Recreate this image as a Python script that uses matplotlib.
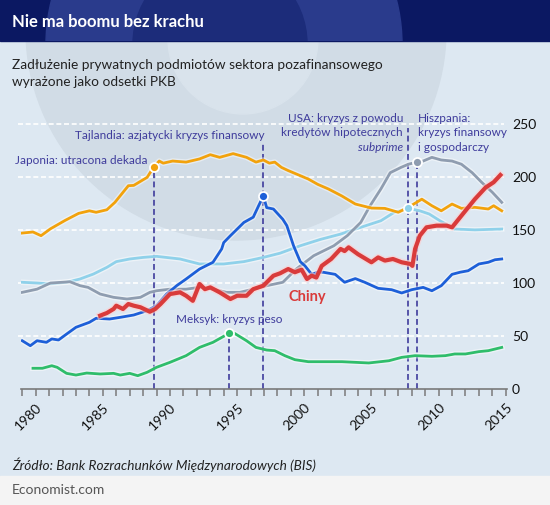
import matplotlib
matplotlib.use("Agg")
import matplotlib.pyplot as plt
import matplotlib.patheffects as pe
from matplotlib.patches import Rectangle, Circle

plt.rcParams['font.family'] = ['Lato', 'DejaVu Sans']

# data (year, % of GDP)
japan_x = [1979.0, 1979.8, 1980.4, 1981.1, 1982.2, 1983.2, 1984.0, 1984.5, 1985.3, 1985.9, 1986.9, 1987.3,
           1988.3, 1988.8, 1989.2, 1989.5, 1990.2, 1991.2, 1992.2, 1993.0, 1993.7, 1994.7, 1995.7, 1996.4,
           1996.95, 1997.4, 1997.8, 1998.3, 1998.8, 1999.55, 2000.3, 2001.0, 2001.8, 2002.8, 2003.8, 2005.0,
           2006.0, 2007.0, 2007.75, 2008.75, 2009.5, 2010.2, 2011.0, 2011.7, 2012.7, 2013.7, 2014.1, 2014.7]
japan_y = [147, 148, 144.5, 151, 159, 165.6, 168, 166.6, 169, 176, 191.7, 192,
           199.6, 209.6, 215, 213, 215, 214, 217, 221, 218.5, 222, 218.5, 214,
           216, 213, 214, 209, 206, 202, 198, 193, 188.6, 182, 174.4, 170.6,
           170.3, 166.6, 171.3, 179, 172.8, 168, 174.4, 170.3, 171.3, 169.7, 172.8, 168]

thai_x = [1979.0, 1979.6, 1980.1, 1980.8, 1981.2, 1981.7, 1982.3, 1983.0, 1984.0, 1984.5, 1985.5, 1986.3,
          1987.3, 1988.3, 1989.0, 1989.75, 1990.5, 1991.2, 1992.2, 1993.2, 1993.85, 1994.0, 1994.5, 1995.5,
          1996.2, 1996.6, 1996.95, 1997.2, 1997.7, 1998.4, 1998.7, 1999.2, 1999.7, 2000.05, 2000.55, 2001.0,
          2001.4, 2002.3, 2003.0, 2003.8, 2004.5, 2005.5, 2006.5, 2007.25, 2008.0, 2008.85, 2009.5, 2010.2,
          2011.0, 2011.6, 2012.2, 2013.0, 2013.7, 2014.2, 2014.7]
thai_y = [45.3, 40.6, 45.3, 43.8, 47, 46, 51.6, 58, 62.7, 66.5, 65.8, 67.4,
          69.6, 73.7, 78.4, 89.4, 97.3, 103.6, 113, 119.4, 132, 138, 144.5, 157,
          162, 172.8, 182, 171, 169.7, 160, 154, 135, 120, 116, 108, 110,
          110, 108, 100.5, 104, 100.5, 94.8, 93.5, 90.4, 93.5, 95.7, 92.5, 97.3,
          108, 110, 111.4, 117.8, 119.4, 121.8, 122.5]

china_x = [1984.8, 1985.3, 1985.8, 1986.0, 1986.5, 1986.9, 1987.3, 1987.8, 1988.5, 1988.9, 1989.3, 1990.0,
           1990.75, 1991.2, 1991.7, 1992.2, 1992.6, 1993.0, 1993.7, 1994.5, 1995.0, 1995.7, 1996.2, 1996.95,
           1997.7, 1998.2, 1998.8, 1999.3, 1999.8, 2000.2, 2000.55, 2000.9, 2001.3, 2002.0, 2002.7, 2003.0,
           2003.3, 2004.0, 2005.0, 2005.5, 2006.0, 2006.6, 2007.25, 2007.9, 2008.05, 2008.25, 2008.6, 2009.1,
           2009.85, 2010.6, 2011.0, 2011.7, 2012.7, 2013.5, 2014.1, 2014.6]
china_y = [69, 71.5, 75.3, 78.4, 75.3, 80, 78.4, 76.9, 72.7, 75.3, 80, 89.4,
           91, 87.8, 83, 98.9, 94, 95.7, 91, 84.7, 87.8, 87.8, 94, 97.3,
           106.7, 109, 113, 110, 112.4, 103.6, 106.7, 105, 116, 122.5, 132, 130,
           133.5, 127, 119.4, 124, 121, 122.5, 119.4, 117.8, 116, 132, 144.5, 152.4,
           154, 154, 152.4, 163.4, 179, 190, 195, 201.8]

spain_x = [1979.0, 1980.1, 1981.1, 1982.55, 1983.3, 1983.9, 1984.8, 1985.8, 1986.8, 1987.8, 1988.5, 1989.0,
           1990.0, 1991.2, 1992.2, 1993.2, 1994.2, 1995.2, 1996.2, 1997.2, 1998.4, 1999.4, 2000.7, 2002.2,
           2003.2, 2004.2, 2004.9, 2005.7, 2006.4, 2007.2, 2007.75, 2008.4, 2008.85, 2009.5, 2010.2, 2011.0,
           2011.7, 2012.5, 2013.2, 2014.0, 2014.7]
spain_y = [91, 94, 99.8, 101, 97.3, 95.7, 89.4, 86.3, 84.7, 86.3, 91, 92.5,
           94, 94, 95.7, 94, 91, 91, 94, 97.3, 100.5, 113, 125.6, 135,
           144.5, 157, 172.8, 188.6, 204, 209, 212, 214, 215, 218.5, 216, 215,
           212, 204, 195, 185.5, 176]

usa_x = [1979.0, 1980.1, 1981.1, 1982.3, 1983.3, 1984.3, 1985.3, 1986.0, 1987.0, 1988.0, 1989.0, 1990.75,
         1992.2, 1994.0, 1995.5, 1996.95, 1998.2, 1999.7, 2001.2, 2002.7, 2004.2, 2005.7, 2006.7, 2007.75,
         2008.6, 2009.3, 2010.1, 2011.2, 2012.7, 2014.7]
usa_y = [100.5, 99.8, 99, 100.5, 103.6, 108.3, 114.6, 120, 122.5, 124, 125, 122.5,
         117.8, 117.8, 120, 124, 128, 135, 141, 146, 152.4, 158.6, 166.6, 170.3,
         168, 165, 158.6, 150.8, 150, 150.8]

mex_x = [1979.8, 1980.5, 1981.2, 1981.6, 1982.3, 1983.0, 1983.8, 1984.8, 1985.8, 1986.3, 1987.0, 1987.6,
         1988.3, 1989.0, 1990.0, 1991.2, 1992.2, 1993.2, 1994.4, 1994.8, 1995.7, 1996.4, 1997.2, 1997.8,
         1998.55, 1999.3, 2000.3, 2001.55, 2002.8, 2004.8, 2006.3, 2007.25, 2008.25, 2009.5, 2010.5, 2011.2,
         2012.0, 2013.0, 2013.7, 2014.7]
mex_y = [19.3, 19.3, 21.7, 20.2, 14.5, 12.9, 14.8, 13.9, 14.5, 12.9, 14.5, 12.3,
         15.5, 20.2, 24.9, 31.2, 39, 43.8, 52.3, 52.3, 45.3, 39, 36.5, 35.9,
         31.2, 27.4, 25.5, 25.5, 25.5, 24.3, 26.4, 29.6, 31.2, 30.6, 31.2, 32.8,
         32.8, 35, 35.9, 39]

# crisis markers: year, value on the series, top of dashed line
event_years = [1988.8, 1996.95, 1994.4, 2007.75, 2008.4]
event_values = [209.6, 182, 52.3, 170.3, 214]
event_tops = [209.6, 233, 52.3, 246, 214]
event_colors = ['#f2a20c', '#1d5fd8', '#2fbd6b', '#8fd1ea', '#8f9db0']

grid_values = [50, 100, 150, 200, 250]
axis_labels = ['0', '50', '100', '150', '200', '250']
year_ticks = list(range(1979, 2016))

C_JAP = '#f2a20c'
C_THA = '#1d5fd8'
C_CHN = '#d93b3b'
C_ESP = '#8f9db0'
C_USA = '#8fd1ea'
C_MEX = '#2fbd6b'
C_ANN = '#3f3c9c'

fig = plt.figure(figsize=(5.5, 5.06), dpi=100)

# background in pixel coordinates
bg = fig.add_axes([0, 0, 1, 1])
bg.set_xlim(0, 550)
bg.set_ylim(506, 0)
bg.axis('off')
main = Rectangle((0, 42), 550, 435, color='#dde8f2', zorder=0)
bg.add_patch(main)
d1 = Circle((236, 31), 210, color='#d1dce6', zorder=1)
d2 = Circle((243, 40), 75, color='#d9e3ec', zorder=2)
bg.add_patch(d1)
bg.add_patch(d2)
d1.set_clip_path(main)
d2.set_clip_path(main)
head = Rectangle((0, 0), 550, 42, color='#0b1862', zorder=3)
bg.add_patch(head)
h1 = Circle((224, 45), 178, color='#2a3b8c', zorder=4)
h2 = Circle((220, 45), 87, color='#1c2c7a', zorder=5)
bg.add_patch(h1)
bg.add_patch(h2)
h1.set_clip_path(head)
h2.set_clip_path(head)
bg.add_patch(Rectangle((0, 477), 550, 29, color='#f4f4f4', zorder=3))

bg.text(12, 22, 'Nie ma boomu bez krachu', color='white', fontsize=12, fontweight='bold',
        va='center', zorder=6)
bg.text(12, 65, 'Zadłużenie prywatnych podmiotów sektora pozafinansowego', color='#222222',
        fontsize=9.8, va='center', zorder=6)
bg.text(12, 82, 'wyrażone jako odsetki PKB', color='#222222', fontsize=9.8, va='center', zorder=6)
bg.text(12, 465, 'Źródło: Bank Rozrachunków Międzynarodowych (BIS)', color='#222222', fontsize=9.8,
        style='italic', va='center', zorder=6)
bg.text(12, 490, 'Economist.com', color='#555555', fontsize=10, va='center', zorder=6)

# chart
ax = fig.add_axes([20.9 / 550, (506 - 389.7) / 506, 486.2 / 550, 275.3 / 506])
ax.patch.set_alpha(0)
ax.set_xlim(1978.9, 2015.1)
ax.set_ylim(0, 260)
for s in ['top', 'right', 'left']:
    ax.spines[s].set_visible(False)
ax.spines['bottom'].set_color('#7a7a7a')
ax.spines['bottom'].set_linewidth(1.2)
ax.set_yticks([])
ax.set_xticks(year_ticks)
ax.set_xticklabels([str(y) if y % 5 == 0 else '' for y in year_ticks], rotation=45, ha='right',
                   rotation_mode='anchor', fontsize=10, color='#111111')
ax.tick_params(axis='x', direction='out', length=5, width=1.1, color='#7a7a7a', pad=3)

for g in grid_values:
    ax.plot([1978.7, 2014.9], [g, g], color='white', lw=1.2, ls=(0, (3, 1.6)), zorder=1, clip_on=False)

for i, lab in enumerate(axis_labels):
    ax.text(2015.47, i * 50, lab, fontsize=10, color='#111111', va='center', ha='left', clip_on=False)

for x, top in zip(event_years, event_tops):
    ax.plot([x, x], [0, top], color=C_ANN, lw=1.2, ls=(0, (3.5, 2)), zorder=2)

halo = [pe.withStroke(linewidth=4, foreground=(1, 1, 1, 0.45))]
ax.plot(usa_x, usa_y, color=C_USA, lw=2, zorder=3, path_effects=halo)
ax.plot(spain_x, spain_y, color=C_ESP, lw=2, zorder=3, path_effects=halo)
ax.plot(japan_x, japan_y, color=C_JAP, lw=2, zorder=3, path_effects=halo)
ax.plot(mex_x, mex_y, color=C_MEX, lw=2, zorder=3, path_effects=halo)
ax.plot(thai_x, thai_y, color=C_THA, lw=2, zorder=4, path_effects=halo)
ax.plot(china_x, china_y, color=C_CHN, lw=3, zorder=5,
        path_effects=[pe.withStroke(linewidth=5, foreground=(1, 0.8, 0.8, 0.6))])

for x, v, c in zip(event_years, event_values, event_colors):
    ax.plot(x, v, 'o', ms=6.5, color=c, mec='white', mew=1.3, zorder=6)

ax.text(1988.3, 216, 'Japonia: utracona dekada', color=C_ANN, fontsize=8.5, ha='right', va='center')
ax.text(1997.07, 240.5, 'Tajlandia: azjatycki kryzys finansowy', color=C_ANN, fontsize=8.5,
        ha='right', va='center')
ax.text(1994.4, 66.5, 'Meksyk: kryzys peso', color=C_ANN, fontsize=8.5, ha='center', va='center')
ax.text(2007.35, 256.3, 'USA: kryzys z powodu', color=C_ANN, fontsize=8.5, ha='right', va='center')
ax.text(2007.35, 242.7, 'kredytów hipotecznych', color=C_ANN, fontsize=8.5, ha='right', va='center')
ax.text(2007.35, 228.9, 'subprime', color=C_ANN, fontsize=8.5, ha='right', va='center', style='italic')
ax.text(2008.44, 256.3, 'Hiszpania:', color=C_ANN, fontsize=8.5, ha='left', va='center')
ax.text(2008.44, 242.7, 'kryzys finansowy', color=C_ANN, fontsize=8.5, ha='left', va='center')
ax.text(2008.44, 228.9, 'i gospodarczy', color=C_ANN, fontsize=8.5, ha='left', va='center')
ax.text(2000.2, 87.8, 'Chiny', color=C_CHN, fontsize=10.5, fontweight='bold', ha='center', va='center')

fig.savefig('out.png', dpi=100)
